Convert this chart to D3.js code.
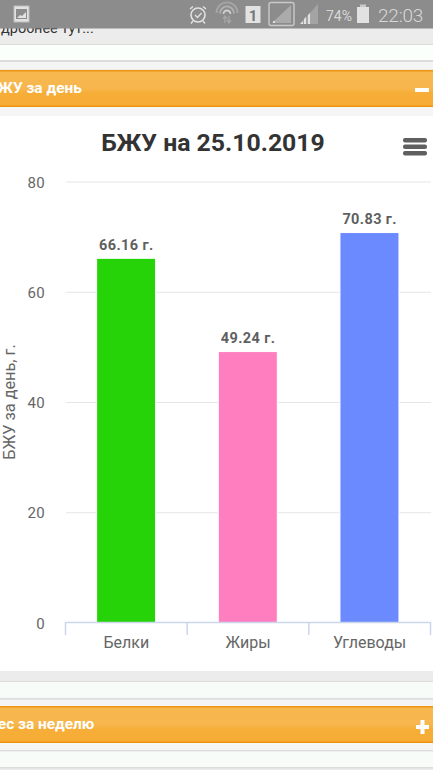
<!DOCTYPE html>
<html><head><meta charset="utf-8">
<style>html,body{margin:0;padding:0;background:#fff}svg{display:block}text{font-family:Roboto,"Noto Sans",sans-serif}</style>
<script src="https://cdn.jsdelivr.net/npm/d3@7"></script></head>
<body><svg id="c" width="433" height="770"></svg>
<script>
const categories=["Белки","Жиры","Углеводы"];
const values=[66.16,49.24,70.83];
const colors=["#26d208","#ff7ebf","#6b8aff"];
const yTicks=[0,20,40,60,80];
const chartTitle="БЖУ на 25.10.2019";
const yTitle="БЖУ за день, г.";
const unit=" г.";

const svg=d3.select("#c");
const R=(x,y,w,h,f)=>svg.append("rect").attr("x",x).attr("y",y).attr("width",w).attr("height",h).attr("fill",f);
const defs=svg.append("defs");
const g=defs.append("linearGradient").attr("id","og").attr("x1",0).attr("y1",0).attr("x2",0).attr("y2",1);
g.append("stop").attr("offset",0).attr("stop-color","#f7b850");
g.append("stop").attr("offset",.48).attr("stop-color","#f7b74e");
g.append("stop").attr("offset",.62).attr("stop-color","#f6ae38");
g.append("stop").attr("offset",1).attr("stop-color","#f6ac35");

// page chrome
R(0,0,433,770,"#ececec");
R(0,44,433,1,"#dcdcdc");R(0,45,433,15,"#fbfffb");R(0,60,433,2,"#dcdcdc");R(0,62,433,7,"#f4f4f4");
function header(y,label,x){
  R(0,y,433,37,"url(#og)");R(0,y,433,1.5,"#ef9410");R(0,y+35.5,433,1.5,"#ef9410");
  svg.append("text").attr("x",x).attr("y",y+22.5).attr("fill","#fff").attr("font-size",15.4).attr("font-weight",700).text(label);
}
svg.append("text").attr("x",1).attr("y",33).attr("fill","#333").attr("font-size",14.5).text("дробнее тут...");
header(70,"БЖУ за день",-12);
R(415,88,14,4,"#fff");
R(0,107,433,9,"#f5f5f5");
R(0,116,433,555,"#fff");
R(0,681,433,1,"#dcdcdc");R(0,682,433,16,"#f8fcf8");R(0,698,433,1.5,"#dcdcdc");R(0,700,433,6,"#f4f4f4");
header(706,"Вес за неделю",-12);
R(416,725,13,4,"#fff");R(420.5,720,4,14,"#fff");
R(0,743,433,7,"#f5f5f5");R(0,750,433,1.5,"#dcdcdc");R(0,751.5,433,15.5,"#f8fcf8");R(0,767,433,1.5,"#dcdcdc");

// status bar
R(0,0,433,28.5,"#8c8c8c");
const ic="#e2e2e2";
svg.append("rect").attr("x",14).attr("y",6).attr("width",15).attr("height",16).attr("fill",ic).attr("stroke","#bdbdbd");
R(16,9,11,10,"#8c8c8c");
svg.append("path").attr("d","M17 18l3-3 2 1 4-4v6z").attr("fill",ic);
svg.append("circle").attr("cx",198).attr("cy",15).attr("r",7).attr("fill","none").attr("stroke",ic).attr("stroke-width",1.6);
svg.append("path").attr("d","M195 15l2.5 2.5 4-4.5").attr("fill","none").attr("stroke",ic).attr("stroke-width",1.3);
svg.append("path").attr("d","M190 9l3-2.5M206 9l-3-2.5M193 21l-2 2.5M203 21l2 2.5").attr("stroke",ic).attr("stroke-width",1.4);
[[10.5,"#a5a5a5"],[7,"#b0b0b0"],[3.5,"#d0d0d0"]].forEach(([r,c])=>{
  svg.append("path").attr("d",`M${227-r} ${14.5-r*.15}A${r} ${r} 0 0 1 ${227+r} ${14.5-r*.15}`).attr("fill","none").attr("stroke",c).attr("stroke-width",1.8);
});
svg.append("path").attr("d","M225 16v7M222.8 19l2.2-3 2.2 3M229 23v-7M226.8 20l2.2 3 2.2-3").attr("fill","none").attr("stroke","#a8a8a8").attr("stroke-width",1.2);
R(245.5,6,15,17,ic);
svg.append("text").attr("x",253).attr("y",21).attr("text-anchor","middle").attr("font-size",15).attr("font-weight",700).attr("fill","#777").text("1");
svg.append("rect").attr("x",269).attr("y",2.5).attr("width",25).attr("height",23).attr("rx",2).attr("fill","none").attr("stroke","#c9c9c9").attr("stroke-width",1.4);
svg.append("path").attr("d","M272 23L291 5V23z").attr("fill","#ababab");
R(273,21,2,2,ic);
svg.append("path").attr("d","M300 24l18-20v20z").attr("fill","#a4a4a4");
svg.append("path").attr("d","M300 24l3-3v3zM304 24v-5l2-2v7zM308 24v-9l2-2v11z").attr("fill",ic);
svg.append("text").attr("x",326).attr("y",20.5).attr("font-size",14).attr("fill","#d8d8d8").text("74%");
R(357,7,12,16,ic);R(360,4.5,6,2.5,"#c9c9c9");
svg.append("text").attr("x",378).attr("y",22).attr("font-size",19).attr("font-weight",300).attr("letter-spacing",-.2).attr("fill","#d8d8d8").text("22:03");

// chart
const y=d3.scaleLinear().domain([0,80]).range([623,182]);
const x=d3.scaleBand().domain(categories).range([65.5,430.5]).paddingInner(0).paddingOuter(0);
svg.selectAll(".grid").data(yTicks.slice(1)).join("line").attr("class","grid")
  .attr("x1",66).attr("x2",431).attr("y1",d=>y(d)).attr("y2",d=>y(d)).attr("stroke","#e6e6e6").attr("stroke-width",1);
svg.selectAll(".yl").data(yTicks).join("text").attr("class","yl").attr("x",45).attr("y",d=>y(d)+5.5)
  .attr("text-anchor","end").attr("font-size",15).attr("letter-spacing",.3).attr("fill","#666").text(d=>d);
svg.selectAll(".bar").data(values).join("rect").attr("class","bar")
  .attr("x",(d,i)=>x(categories[i])+x.bandwidth()/2-29.7).attr("width",59)
  .attr("y",d=>y(d)).attr("height",d=>y(0)-y(d)).attr("fill",(d,i)=>colors[i])
  .attr("stroke","#fff").attr("stroke-width",1);
svg.selectAll(".dl").data(values).join("text").attr("class","dl")
  .attr("x",(d,i)=>x(categories[i])+x.bandwidth()/2).attr("y",d=>y(d)-8.5)
  .attr("text-anchor","middle").attr("font-size",14.5).attr("font-weight",700).attr("letter-spacing",.4).attr("fill","#5f5f5f")
  .text(d=>d.toFixed(2)+unit);
const ax=svg.append("g").attr("fill","none").attr("stroke","#ccd6eb").attr("stroke-width",1.5);
ax.append("line").attr("x1",65.5).attr("x2",430.5).attr("y1",622.5).attr("y2",622.5);
x.domain().concat(null).forEach(c=>{
  const px=c===null?x.range()[1]:x(c);
  ax.append("line").attr("x1",px).attr("x2",px).attr("y1",622).attr("y2",635);
});
svg.selectAll(".xl").data(categories).join("text").attr("class","xl")
  .attr("x",d=>x(d)+x.bandwidth()/2).attr("y",648).attr("text-anchor","middle").attr("font-size",16).attr("fill","#666").text(d=>d);
svg.append("text").attr("transform","translate(14.5,402) rotate(-90)").attr("text-anchor","middle")
  .attr("font-size",16.3).attr("fill","#666").text(yTitle);
svg.append("text").attr("x",213).attr("y",151).attr("text-anchor","middle").attr("font-size",24.8).attr("font-weight",700).attr("fill","#333").text(chartTitle);
[0,1,2].forEach(i=>svg.append("rect").attr("x",403).attr("y",138+i*6.5).attr("width",24).attr("height",4.5).attr("rx",2).attr("fill","#5f5f5f"));
</script></body></html>
